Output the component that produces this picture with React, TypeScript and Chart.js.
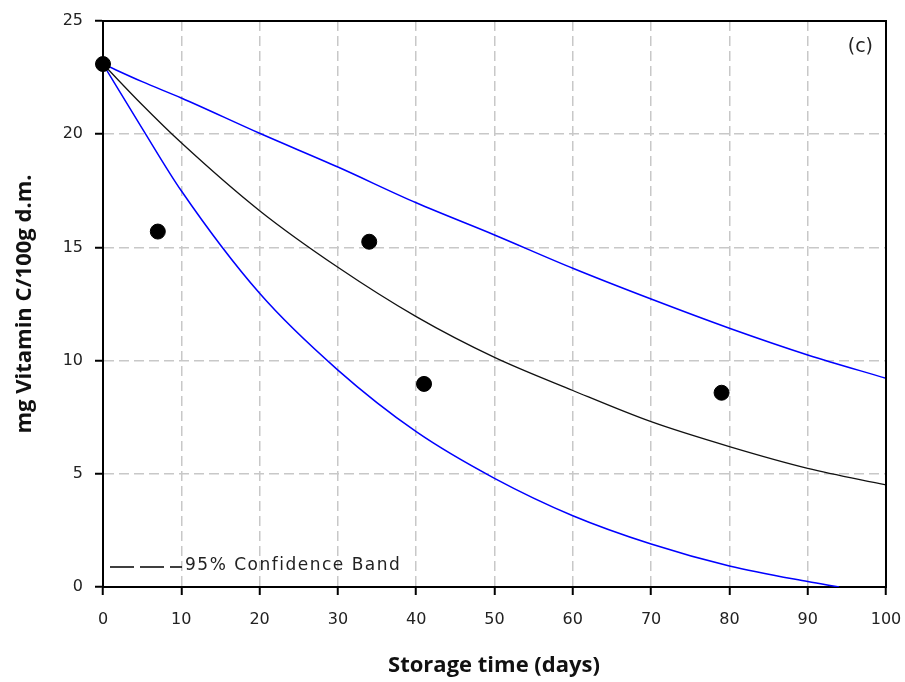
import React, { useEffect, useRef } from "react";
import { Chart, registerables } from "chart.js";

Chart.register(...registerables);

// Observed data (storage day, mg vitamin C / 100 g d.m.)
const obsDays = [0, 7, 34, 41, 79];
const obsVitC = [23.1, 15.7, 15.25, 8.97, 8.58];

// Fitted curve and 95% confidence band
const curveDays = [0, 5, 10, 20, 30, 40, 50, 60, 70, 80, 90, 100];
const fitted = [23.1, 21.3, 19.62, 16.62, 14.12, 11.94, 10.14, 8.68, 7.3, 6.2, 5.24, 4.51];
const upperBand = [23.1, 22.32, 21.6, 20.04, 18.55, 16.97, 15.55, 14.08, 12.72, 11.43, 10.25, 9.22];
const lowerDays = [0, 5, 10, 20, 30, 40, 50, 60, 70, 80, 90, 94];
const lowerBand = [23.1, 20.26, 17.5, 12.97, 9.58, 6.86, 4.8, 3.15, 1.9, 0.93, 0.24, 0];

const xTitle = "Storage time (days)";
const yTitle = "mg Vitamin C/100g d.m.";
const legendText = "95% Confidence Band";
const panelLabel = "(c)";

const toPts = (xs: number[], ys: number[]) => xs.map((x, i) => ({ x, y: ys[i] }));

const decorPlugin = {
  id: "decor",
  afterDraw(chart: any) {
    const { ctx, chartArea } = chart;
    const { left, right, top, bottom } = chartArea;
    ctx.save();
    // frame top & right
    ctx.strokeStyle = "#000";
    ctx.lineWidth = 2;
    ctx.setLineDash([]);
    ctx.beginPath();
    ctx.moveTo(left - 1, top);
    ctx.lineTo(right, top);
    ctx.lineTo(right, bottom + 1);
    ctx.stroke();

    // legend
    ctx.lineWidth = 1.5;
    ctx.setLineDash([24, 6]);
    ctx.beginPath();
    ctx.moveTo(110, 567);
    ctx.lineTo(182, 567);
    ctx.stroke();
    ctx.setLineDash([]);
    ctx.fillStyle = "#222";
    ctx.font = "17px 'DejaVu Sans'";
    (ctx as any).letterSpacing = "1.5px";
    ctx.textAlign = "left";
    ctx.textBaseline = "middle";
    ctx.fillText(legendText, 185, 566);

    // panel label
    (ctx as any).letterSpacing = "0px";
    ctx.font = "19px 'DejaVu Sans'";
    ctx.textAlign = "right";
    ctx.fillText(panelLabel, 873, 47);

    // axis titles
    ctx.fillStyle = "#111";
    ctx.font = "bold 22px 'Open Sans'";
    ctx.textAlign = "center";
    ctx.fillText(xTitle, 494, 666);
    ctx.translate(25, (top + bottom) / 2);
    ctx.rotate(-Math.PI / 2);
    ctx.fillText(yTitle, 0, 0);
    ctx.restore();
  },
};

export default function App() {
  const ref = useRef<HTMLCanvasElement>(null);
  useEffect(() => {
    if (!ref.current) return;
    const tickFont = { family: "'DejaVu Sans'", size: 16 };
    const chart = new Chart(ref.current, {
      type: "scatter",
      data: {
        datasets: [
          {
            label: "Observed",
            data: toPts(obsDays, obsVitC),
            backgroundColor: "#000",
            borderColor: "#000",
            pointRadius: 7.5,
            pointHoverRadius: 7.5,
            showLine: false,
            clip: false as any,
          },
          {
            label: "Fit",
            data: toPts(curveDays, fitted),
            showLine: true,
            borderColor: "#111",
            borderWidth: 1.3,
            pointRadius: 0,
            cubicInterpolationMode: "monotone",
          },
          {
            label: "Upper",
            data: toPts(curveDays, upperBand),
            showLine: true,
            borderColor: "#0000ff",
            borderWidth: 1.5,
            pointRadius: 0,
            cubicInterpolationMode: "monotone",
          },
          {
            label: "Lower",
            data: toPts(lowerDays, lowerBand),
            showLine: true,
            borderColor: "#0000ff",
            borderWidth: 1.5,
            pointRadius: 0,
            cubicInterpolationMode: "monotone",
          },
        ],
      },
      options: {
        animation: false,
        responsive: false,
        devicePixelRatio: 1,
        layout: { padding: { left: 0, right: 19, top: 21, bottom: 0 } },
        plugins: { legend: { display: false }, tooltip: { enabled: false } },
        scales: {
          x: {
            type: "linear",
            min: 0,
            max: 100,
            afterFit: (s: any) => {
              s.height = 95;
              s.paddingLeft = 0;
              s.paddingRight = 0;
            },
            ticks: { stepSize: 10, color: "#222", font: tickFont, padding: 15, maxRotation: 0 },
            grid: {
              color: "#c8c8c8",
              lineWidth: 1.5,
              tickColor: "#000",
              tickWidth: 2,
              tickLength: 8,
            },
            border: { display: true, color: "#000", width: 2, dash: [10, 5] },
          },
          y: {
            type: "linear",
            min: 0,
            max: 25,
            afterFit: (s: any) => {
              s.width = 103;
              s.paddingTop = 0;
              s.paddingBottom = 0;
            },
            ticks: { stepSize: 5, color: "#222", font: tickFont, padding: 12 },
            grid: {
              color: "#c8c8c8",
              lineWidth: 1.5,
              tickColor: "#000",
              tickWidth: 2,
              tickLength: 8,
            },
            border: { display: true, color: "#000", width: 2, dash: [10, 5] },
          },
        },
      },
      plugins: [decorPlugin],
    });
    return () => chart.destroy();
  }, []);
  return (
    <div style={{ position: "fixed", left: 0, top: 0, width: 905, height: 682, background: "#fff" }}>
      <canvas ref={ref} width={905} height={682} style={{ width: 905, height: 682 }} />
    </div>
  );
}
